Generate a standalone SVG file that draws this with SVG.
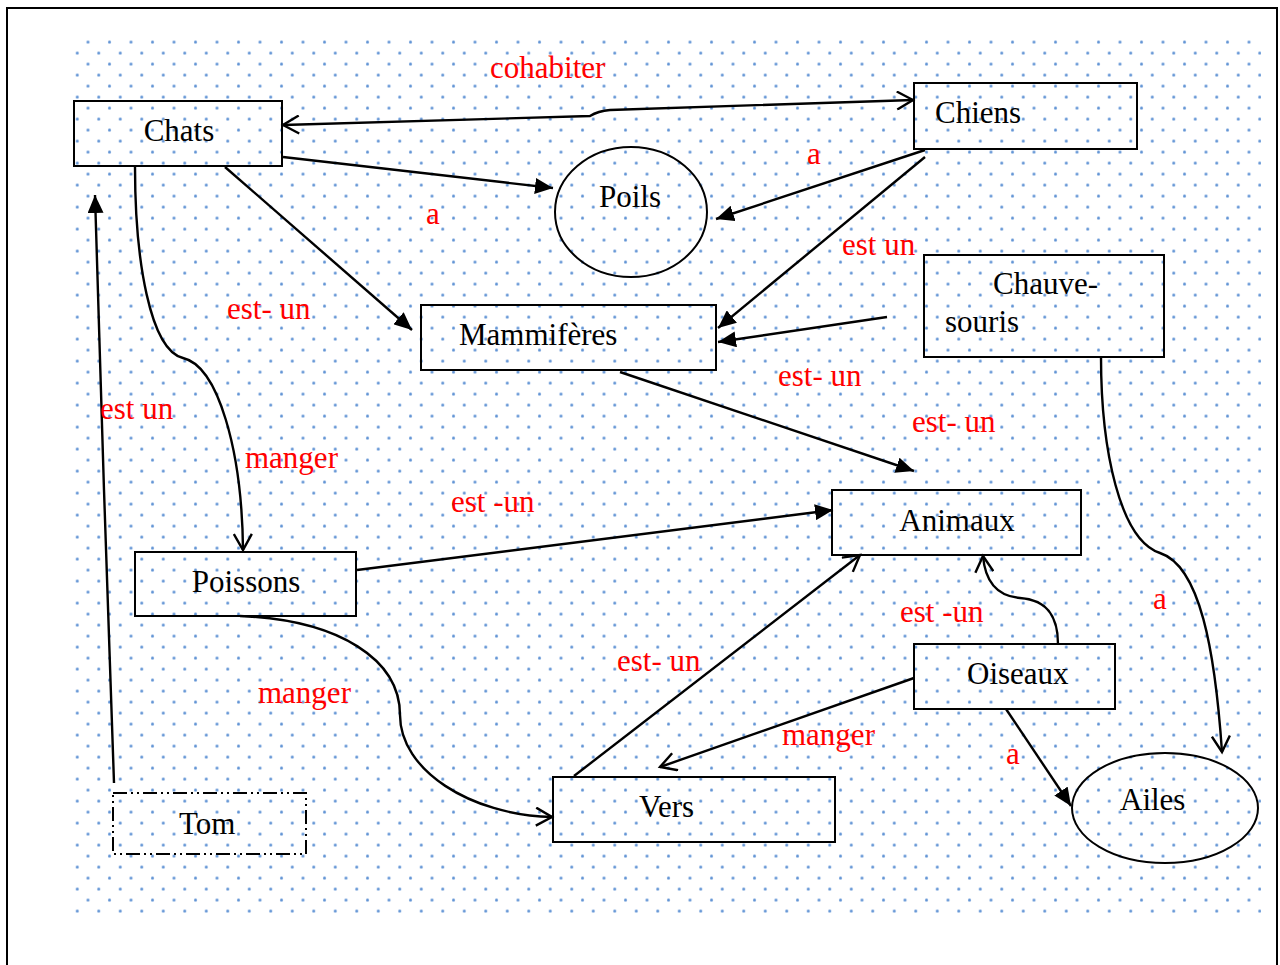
<svg xmlns="http://www.w3.org/2000/svg" width="1280" height="965" viewBox="0 0 1280 965">
<style>
.box{fill:none;stroke:#000;stroke-width:2}
.t{font-family:"Liberation Serif","Times New Roman",serif;font-size:31px;fill:#000}
.l{font-family:"Liberation Serif","Times New Roman",serif;font-size:31px;fill:#ff0000}
.c{fill:none;stroke:#000;stroke-width:2.4}
.fa{marker-end:url(#fill)}
.oa{marker-end:url(#open)}
</style>
<defs>
<pattern id="dots" patternUnits="userSpaceOnUse" x="71.85" y="36.55" width="21.5" height="22">
<circle cx="16.15" cy="5.45" r="1.5" fill="#5f92d4"/>
<circle cx="5.4" cy="16.45" r="1.5" fill="#5f92d4"/>
</pattern>
<marker id="fill" markerUnits="userSpaceOnUse" markerWidth="20" markerHeight="16" refX="18" refY="8" orient="auto">
<path d="M0,0 L18,8 L0,16 z" fill="#000"/>
</marker>
<marker id="open" markerUnits="userSpaceOnUse" markerWidth="22" markerHeight="20" refX="17" refY="10" orient="auto-start-reverse">
<path d="M1,1 L17,10 L1,19" fill="none" stroke="#000" stroke-width="2.4"/>
</marker>
</defs>
<rect x="0" y="0" width="1280" height="965" fill="#fff"/>
<rect x="7" y="8" width="1270" height="990" fill="none" stroke="#000" stroke-width="2"/>
<rect x="74" y="37" width="1187" height="881" fill="url(#dots)"/>

<g id="connectors">
<path class="c oa" d="M283,125 L590,116 Q598,111 610,110 L913,100" marker-start="url(#open)"/>
<path class="c fa" d="M283,157 L553,188"/>
<path class="c fa" d="M925,150 L716,219"/>
<path class="c fa" d="M225,167 L412,330"/>
<path class="c fa" d="M925,157 L718,328"/>
<path class="c fa" d="M887,317 L718,342"/>
<path class="c fa" d="M620,372 L914,471"/>
<path class="c oa" d="M135,167 C135,260 150,350 183,358 C218,366 242,450 243,550"/>
<path class="c fa" d="M114,783 L104,490 L95,195"/>
<path class="c fa" d="M357,570 L833,510"/>
<path class="c oa" d="M240,616 C340,620 400,660 400,715 C400,770 470,815 552,817"/>
<path class="c oa" d="M574,776 L860,555"/>
<path class="c oa" d="M1058,644 C1058,620 1050,600 1020,598 C995,596 985,580 983,556"/>
<path class="c oa" d="M914,678 L660,767"/>
<path class="c fa" d="M1006,709 L1071,806"/>
<path class="c oa" d="M1101,357 C1101,450 1120,540 1160,553 C1200,566 1215,650 1222,752"/>
</g>

<g id="labels">
<text class="l" x="490" y="78">cohabiter</text>
<text class="l" x="807" y="164">a</text>
<text class="l" x="426" y="224">a</text>
<text class="l" x="842" y="255">est un</text>
<text class="l" x="227" y="319">est- un</text>
<text class="l" x="778" y="386">est- un</text>
<text class="l" x="912" y="432">est- un</text>
<text class="l" x="100" y="419">est un</text>
<text class="l" x="245" y="468">manger</text>
<text class="l" x="451" y="512">est -un</text>
<text class="l" x="900" y="622">est -un</text>
<text class="l" x="1153" y="609">a</text>
<text class="l" x="617" y="671">est- un</text>
<text class="l" x="258" y="703">manger</text>
<text class="l" x="782" y="745">manger</text>
<text class="l" x="1006" y="764">a</text>
</g>

<g id="chats"><rect class="box" x="74" y="101" width="208" height="65"/><text class="t" x="179" y="141" text-anchor="middle">Chats</text></g>
<g id="chiens"><rect class="box" x="914" y="83" width="223" height="66"/><text class="t" x="935" y="123">Chiens</text></g>
<g id="poils"><ellipse class="box" cx="631" cy="212" rx="76" ry="65"/><text class="t" x="630" y="207" text-anchor="middle">Poils</text></g>
<g id="mammiferes"><rect class="box" x="421" y="305" width="295" height="65"/><text class="t" x="459" y="345">Mammifères</text></g>
<g id="chauve-souris"><rect class="box" x="924" y="255" width="240" height="102"/><text class="t" x="993" y="294">Chauve-</text><text class="t" x="945" y="332">souris</text></g>
<g id="animaux"><rect class="box" x="832" y="490" width="249" height="65"/><text class="t" x="957" y="531" text-anchor="middle">Animaux</text></g>
<g id="poissons"><rect class="box" x="135" y="552" width="221" height="64"/><text class="t" x="246" y="592" text-anchor="middle">Poissons</text></g>
<g id="oiseaux"><rect class="box" x="914" y="644" width="201" height="65"/><text class="t" x="967" y="684">Oiseaux</text></g>
<g id="vers"><rect class="box" x="553" y="777" width="282" height="65"/><text class="t" x="639" y="817">Vers</text></g>
<g id="tom"><rect class="box" x="113" y="793" width="193" height="61" stroke-dasharray="14,4,2,4,2,4"/><text class="t" x="179" y="834">Tom</text></g>
<g id="ailes"><ellipse class="box" cx="1165" cy="808" rx="93" ry="55"/><text class="t" x="1120" y="810">Ailes</text></g>
</svg>
